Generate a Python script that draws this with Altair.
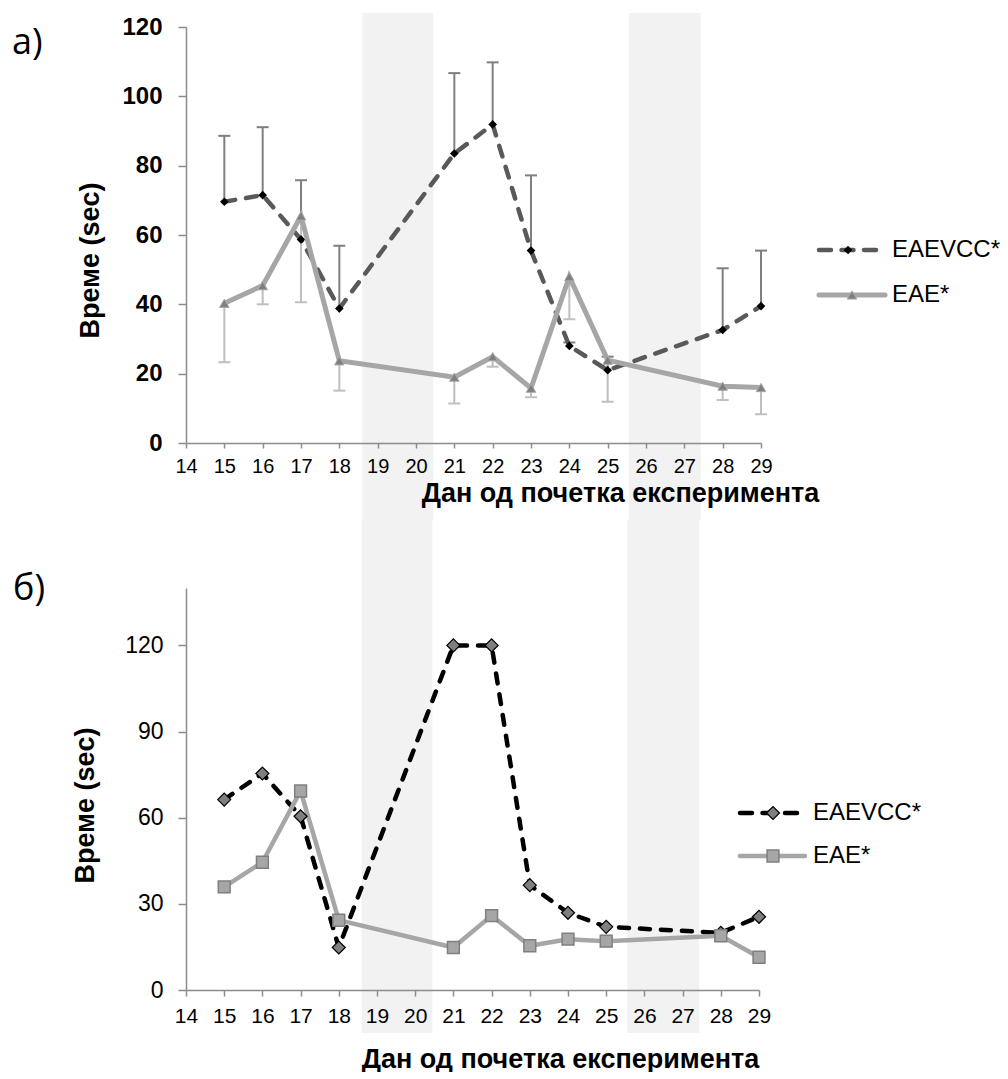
import altair as alt
import pandas as pd

# ---------------- data ----------------
days = [15, 16, 17, 18, 21, 22, 23, 24, 25, 28, 29]

# panel а) means and error bar ends
a_eaevcc = [69.6, 71.5, 58.7, 38.8, 83.5, 91.9, 55.5, 28.0, 21.0, 32.6, 39.5]
a_eaevcc_up = [88.6, 91.1, 75.8, 56.9, 106.7, 109.8, 77.2, 29.0, 24.9, 50.4, 55.5]
a_eae = [40.3, 45.4, 65.5, 23.7, 19.0, 24.9, 15.8, 48.0, 23.9, 16.4, 16.0]
a_eae_lo = [23.3, 40.0, 40.6, 15.1, 11.4, 22.0, 13.2, 35.7, 11.9, 12.4, 8.3]

# panel б)
b_eaevcc = [66.3, 75.4, 60.5, 14.8, 120.0, 120.0, 36.5, 26.9, 22.0, 19.9, 25.5]
b_eae = [35.9, 44.5, 69.3, 24.3, 14.8, 25.9, 15.4, 17.7, 17.0, 18.9, 11.4]

x_ticks = list(range(14, 30))
a_y_ticks = [0, 20, 40, 60, 80, 100, 120]
b_y_ticks = [0, 30, 60, 90, 120]
band_start = [18.6, 25.55]
band_end = [20.45, 27.43]

series_names = ["EAEVCC*", "EAE*"]
x_title = "Дан од почетка експеримента"
y_title = "Време (sec)"

FONT = "Liberation Sans"

top_df = pd.DataFrame({"day": days, "eaevcc": a_eaevcc, "eaevcc_up": a_eaevcc_up,
                       "eae": a_eae, "eae_lo": a_eae_lo})
bot_df = pd.DataFrame({"day": days, "eaevcc": b_eaevcc, "eae": b_eae})
bands_df = pd.DataFrame({"start": band_start, "end": band_end})
one = pd.DataFrame({"k": [0]})

xs = alt.Scale(domain=[14, 29], nice=False, zero=False)


def x_axis(title_x, title_y, label_size, label_pad, tick):
    return alt.Axis(values=x_ticks, format="d", title=x_title, titleX=title_x, titleY=title_y,
                    titleAlign="center", titleBaseline="middle", titleFontSize=27,
                    titleFontWeight="bold", titleColor="#000", titleFont=FONT,
                    labelFontSize=label_size, labelPadding=label_pad, labelColor="#000",
                    labelFont=FONT, labelFlush=False, labelOverlap=False,
                    tickSize=tick, domainColor="#8c8c8c", tickColor="#8c8c8c",
                    domainWidth=1.5, tickWidth=1.5, grid=False, zindex=1)


def y_axis(vals, title_x, title_y, label_size, bold, label_pad):
    return alt.Axis(values=vals, format="d", title=y_title, titleX=title_x, titleY=title_y,
                    titleAngle=270, titleAlign="center", titleBaseline="middle",
                    titleFontSize=27, titleFontWeight="bold", titleColor="#000", titleFont=FONT,
                    labelFontSize=label_size, labelFontWeight="bold" if bold else "normal",
                    labelPadding=label_pad, labelColor="#000", labelFont=FONT,
                    labelFlush=False, labelOverlap=False,
                    tickSize=8, domainColor="#8c8c8c", tickColor="#8c8c8c",
                    domainWidth=1.5, tickWidth=1.5, grid=False, zindex=1)


# ---------------- top panel ----------------
xa_top = x_axis(434, 50, 20, 8, 5)
ya_top = y_axis(a_y_ticks, -96, 233, 24, True, 16)
ys_top = alt.Scale(domain=[0, 120], nice=False)

Xt = alt.X("day:Q", scale=xs, axis=xa_top)

t_band = alt.Chart(bands_df).mark_rect(color="#f2f2f2").encode(
    x=alt.X("start:Q", scale=xs, axis=xa_top), x2="end:Q",
    y=alt.value(-14), y2=alt.value(493))

t_base = alt.Chart(top_df)
t_err1 = t_base.mark_rule(color="#7f7f7f", strokeWidth=2).encode(
    x=Xt, y=alt.Y("eaevcc:Q", scale=ys_top, axis=ya_top), y2="eaevcc_up:Q")
t_cap1 = t_base.mark_tick(orient="horizontal", size=12, thickness=2, color="#7f7f7f", opacity=1).encode(
    x=Xt, y=alt.Y("eaevcc_up:Q", scale=ys_top, axis=ya_top))
t_err2 = t_base.mark_rule(color="#bfbfbf", strokeWidth=2).encode(
    x=Xt, y=alt.Y("eae_lo:Q", scale=ys_top, axis=ya_top), y2="eae:Q")
t_cap2 = t_base.mark_tick(orient="horizontal", size=12, thickness=2, color="#bfbfbf", opacity=1).encode(
    x=Xt, y=alt.Y("eae_lo:Q", scale=ys_top, axis=ya_top))
t_line1 = t_base.mark_line(color="#595959", strokeWidth=4.5, strokeDash=[11, 11], strokeCap="round").encode(
    x=Xt, y=alt.Y("eaevcc:Q", scale=ys_top, axis=ya_top))
t_pt1 = t_base.mark_point(shape="diamond", filled=True, color="#000", size=75, opacity=1).encode(
    x=Xt, y=alt.Y("eaevcc:Q", scale=ys_top, axis=ya_top))
t_line2 = t_base.mark_line(color="#a6a6a6", strokeWidth=5).encode(
    x=Xt, y=alt.Y("eae:Q", scale=ys_top, axis=ya_top))
t_pt2 = t_base.mark_point(shape="triangle-up", filled=True, fill="#7f7f7f", stroke="#a6a6a6",
                          strokeWidth=1, size=90, opacity=1).encode(
    x=Xt, y=alt.Y("eae:Q", scale=ys_top, axis=ya_top))

# legend (top)
o = alt.Chart(one)
tl = [
    o.mark_rule(color="#595959", strokeWidth=4.5, strokeDash=[12, 10.5], strokeCap="round").encode(
        x=alt.value(633), x2=alt.value(691), y=alt.value(223)),
    o.mark_point(shape="diamond", filled=True, color="#000", size=75, opacity=1).encode(
        x=alt.value(662), y=alt.value(223)),
    o.mark_text(text=series_names[0], align="left", baseline="middle", fontSize=24, font=FONT,
                color="#000").encode(x=alt.value(706), y=alt.value(223)),
    o.mark_rule(color="#a6a6a6", strokeWidth=5, strokeCap="round").encode(
        x=alt.value(633), x2=alt.value(699), y=alt.value(268)),
    o.mark_point(shape="triangle-up", filled=True, fill="#7f7f7f", stroke="#a6a6a6",
                 strokeWidth=1, size=90, opacity=1).encode(x=alt.value(666), y=alt.value(268)),
    o.mark_text(text=series_names[1], align="left", baseline="middle", fontSize=24, font=FONT,
                color="#000").encode(x=alt.value(706), y=alt.value(268)),
    o.mark_text(text="а)", align="left", baseline="middle", fontSize=36, font="Open Sans",
                color="#000").encode(x=alt.value(-174), y=alt.value(16)),
]

top = alt.layer(t_band, t_err1, t_cap1, t_err2, t_cap2, t_line1, t_pt1, t_line2, t_pt2, *tl).properties(
    width=575, height=416)

# ---------------- bottom panel ----------------
xa_bot = x_axis(374, 69, 21, 9, 6)
ya_bot = y_axis(b_y_ticks, -101, 23, False, 15) if False else y_axis(b_y_ticks, -101, 217, 23, False, 15)
ys_bot = alt.Scale(domain=[0, 140], nice=False)
Xb = alt.X("day:Q", scale=xs, axis=xa_bot)

b_band = alt.Chart(bands_df).mark_rect(color="#f2f2f2").encode(
    x=alt.X("start:Q", scale=xs, axis=xa_bot), x2="end:Q",
    y=alt.value(-68), y2=alt.value(445))
b_base = alt.Chart(bot_df)
b_line1 = b_base.mark_line(color="#000", strokeWidth=4.5, strokeDash=[10, 11], strokeCap="round").encode(
    x=Xb, y=alt.Y("eaevcc:Q", scale=ys_bot, axis=ya_bot))
b_pt1 = b_base.mark_point(shape="diamond", filled=True, fill="#7f7f7f", stroke="#000",
                          strokeWidth=1.2, size=170, opacity=1).encode(
    x=Xb, y=alt.Y("eaevcc:Q", scale=ys_bot, axis=ya_bot))
b_line2 = b_base.mark_line(color="#a6a6a6", strokeWidth=4.5).encode(
    x=Xb, y=alt.Y("eae:Q", scale=ys_bot, axis=ya_bot))
b_pt2 = b_base.mark_point(shape="square", filled=True, fill="#a6a6a6", stroke="#7f7f7f",
                          strokeWidth=1.5, size=140, opacity=1).encode(
    x=Xb, y=alt.Y("eae:Q", scale=ys_bot, axis=ya_bot))

bl = [
    o.mark_rule(color="#000", strokeWidth=4.5, strokeDash=[12, 10.5], strokeCap="round").encode(
        x=alt.value(554), x2=alt.value(611), y=alt.value(225)),
    o.mark_point(shape="diamond", filled=True, fill="#7f7f7f", stroke="#000", strokeWidth=1.2,
                 size=170, opacity=1).encode(x=alt.value(587), y=alt.value(225)),
    o.mark_text(text=series_names[0], align="left", baseline="middle", fontSize=24, font=FONT,
                color="#000").encode(x=alt.value(627), y=alt.value(225)),
    o.mark_rule(color="#a6a6a6", strokeWidth=4.5, strokeCap="round").encode(
        x=alt.value(554), x2=alt.value(619), y=alt.value(268)),
    o.mark_point(shape="square", filled=True, fill="#a6a6a6", stroke="#7f7f7f", strokeWidth=1.5,
                 size=140, opacity=1).encode(x=alt.value(587), y=alt.value(268)),
    o.mark_text(text=series_names[1], align="left", baseline="middle", fontSize=24, font=FONT,
                color="#000").encode(x=alt.value(627), y=alt.value(268)),
    o.mark_text(text="б)", align="left", baseline="middle", fontSize=36, font="Open Sans",
                color="#000").encode(x=alt.value(-173), y=alt.value(1)),
]

bottom = alt.layer(b_band, b_line1, b_line2, b_pt1, b_pt2, *bl).properties(width=573, height=402)

chart = alt.vconcat(top, bottom, spacing=0).properties(
    padding={"left": 12, "top": 13, "right": 0, "bottom": 0},
    background="white",
).configure(font=FONT).configure_view(stroke=None, strokeWidth=0)

chart.save("out.html", embed_options={"renderer": "svg", "actions": False})
